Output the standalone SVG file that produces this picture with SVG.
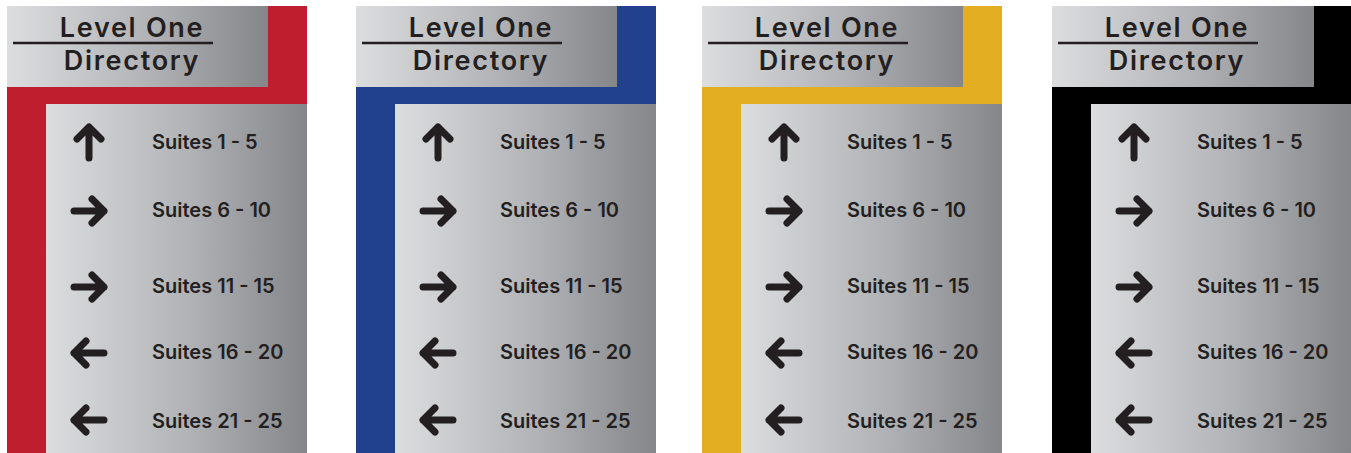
<svg xmlns="http://www.w3.org/2000/svg" width="1351" height="453" viewBox="0 0 1351 453">
<defs>
<linearGradient id="metal" x1="0" y1="0" x2="1" y2="0">
<stop offset="0" stop-color="#dcdddf"/>
<stop offset="0.55" stop-color="#b1b2b5"/>
<stop offset="1" stop-color="#85868a"/>
</linearGradient>
<path id="up" d="M0,-15 V16 M-12,-3 L0,-15 L12,-3"/>
<path id="right" d="M-15,0 H15 M3,-12 L15,0 L3,12"/>
<path id="left" d="M15,0 H-15 M-3,-12 L-15,0 L-3,12"/>
</defs>
<style>
.panel{fill:url(#metal)}
.hd{font-family:Inter,"Noto Sans",sans-serif;font-size:27px;font-weight:600;letter-spacing:1.7px;fill:#231f20;text-anchor:middle}
.st{font-family:Inter,"Noto Sans",sans-serif;font-size:20px;font-weight:600;fill:#231f20}
.ul{stroke:#231f20;stroke-width:2.5}
.ar{fill:none;stroke:#231f20;stroke-width:7;stroke-linecap:round;stroke-linejoin:round}
</style>
<rect width="1351" height="453" fill="#fff"/>
<g id="sign-red">
<rect x="7" y="6" width="300" height="447" fill="#be1e2d"/>
<rect class="panel" x="7" y="6" width="261" height="81"/>
<rect class="panel" x="46" y="104" width="261" height="349"/>
<text class="hd" x="132" y="37">Level One</text>
<line class="ul" x1="13" y1="43" x2="213" y2="43"/>
<text class="hd" x="132" y="70">Directory</text>
<use href="#up" class="ar" x="89" y="142"/>
<use href="#right" class="ar" x="89" y="211"/>
<use href="#right" class="ar" x="89" y="287"/>
<use href="#left" class="ar" x="89" y="353"/>
<use href="#left" class="ar" x="89" y="420"/>
<text class="st" x="152" y="149">Suites 1 - 5</text>
<text class="st" x="152" y="217">Suites 6 - 10</text>
<text class="st" x="152" y="293">Suites 11 - 15</text>
<text class="st" x="152" y="359">Suites 16 - 20</text>
<text class="st" x="152" y="428">Suites 21 - 25</text>
</g>
<g id="sign-blue">
<rect x="356" y="6" width="300" height="447" fill="#21408e"/>
<rect class="panel" x="356" y="6" width="261" height="81"/>
<rect class="panel" x="395" y="104" width="261" height="349"/>
<text class="hd" x="481" y="37">Level One</text>
<line class="ul" x1="362" y1="43" x2="562" y2="43"/>
<text class="hd" x="481" y="70">Directory</text>
<use href="#up" class="ar" x="438" y="142"/>
<use href="#right" class="ar" x="438" y="211"/>
<use href="#right" class="ar" x="438" y="287"/>
<use href="#left" class="ar" x="438" y="353"/>
<use href="#left" class="ar" x="438" y="420"/>
<text class="st" x="500" y="149">Suites 1 - 5</text>
<text class="st" x="500" y="217">Suites 6 - 10</text>
<text class="st" x="500" y="293">Suites 11 - 15</text>
<text class="st" x="500" y="359">Suites 16 - 20</text>
<text class="st" x="500" y="428">Suites 21 - 25</text>
</g>
<g id="sign-yellow">
<rect x="702" y="6" width="300" height="447" fill="#e3ae22"/>
<rect class="panel" x="702" y="6" width="261" height="81"/>
<rect class="panel" x="741" y="104" width="261" height="349"/>
<text class="hd" x="827" y="37">Level One</text>
<line class="ul" x1="708" y1="43" x2="908" y2="43"/>
<text class="hd" x="827" y="70">Directory</text>
<use href="#up" class="ar" x="784" y="142"/>
<use href="#right" class="ar" x="784" y="211"/>
<use href="#right" class="ar" x="784" y="287"/>
<use href="#left" class="ar" x="784" y="353"/>
<use href="#left" class="ar" x="784" y="420"/>
<text class="st" x="847" y="149">Suites 1 - 5</text>
<text class="st" x="847" y="217">Suites 6 - 10</text>
<text class="st" x="847" y="293">Suites 11 - 15</text>
<text class="st" x="847" y="359">Suites 16 - 20</text>
<text class="st" x="847" y="428">Suites 21 - 25</text>
</g>
<g id="sign-black">
<rect x="1052" y="6" width="299" height="447" fill="#000"/>
<rect class="panel" x="1052" y="6" width="262" height="81"/>
<rect class="panel" x="1091" y="104" width="260" height="349"/>
<text class="hd" x="1177" y="37">Level One</text>
<line class="ul" x1="1058" y1="43" x2="1258" y2="43"/>
<text class="hd" x="1177" y="70">Directory</text>
<use href="#up" class="ar" x="1134" y="142"/>
<use href="#right" class="ar" x="1134" y="211"/>
<use href="#right" class="ar" x="1134" y="287"/>
<use href="#left" class="ar" x="1134" y="353"/>
<use href="#left" class="ar" x="1134" y="420"/>
<text class="st" x="1197" y="149">Suites 1 - 5</text>
<text class="st" x="1197" y="217">Suites 6 - 10</text>
<text class="st" x="1197" y="293">Suites 11 - 15</text>
<text class="st" x="1197" y="359">Suites 16 - 20</text>
<text class="st" x="1197" y="428">Suites 21 - 25</text>
</g>
</svg>
